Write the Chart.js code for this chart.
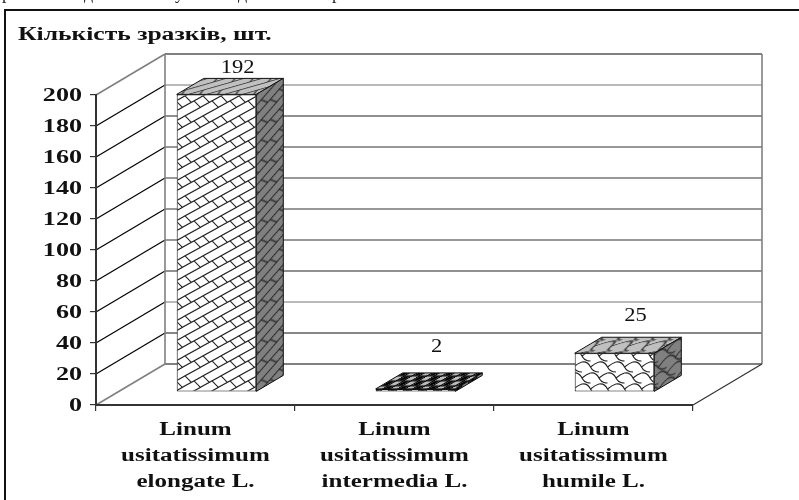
<!DOCTYPE html>
<html><head><meta charset="utf-8">
<style>html,body{margin:0;padding:0;background:#fff}canvas{display:block;filter:blur(0.3px)}</style>
<script src="https://cdn.jsdelivr.net/npm/chart.js@4"></script>
</head><body><canvas id="c" width="799" height="500"></canvas>
<script>
const categories = [["Linum","usitatissimum","elongate L."],["Linum","usitatissimum","intermedia L."],["Linum","usitatissimum","humile L."]];
const sampleCounts = [192, 2, 25];
const chartTitle = "Кількість зразків, шт.";
const clippedTextAbove = ["р","д","у","д","р"];
const clippedTextX = [2,84,175,238,332];
const labelRise = [39,55,50];
const wallLineColors = ["#808080","#111","#777","#222","#333","#333","#333","#333","#222","#777","#808080"];

const FONT = '"Liberation Serif"';
const DEPTH = {x:69,y:-41}, BARD = {x:27,y:-16}, SHIFT = {x:21,y:-13};

function makeTile(w,h,paint){const c=document.createElement('canvas');c.width=w;c.height=h;const g=c.getContext('2d');paint(g,w,h);return c;}
function brick(bg){return makeTile(18,20,(g,w,h)=>{g.fillStyle=bg;g.fillRect(0,0,w,h);g.strokeStyle='#222';g.lineWidth=1.1;
  for(let ox=-w;ox<=w;ox+=w)for(let oy=-h;oy<=h;oy+=h){
    g.beginPath();
    g.moveTo(ox,oy+10);g.lineTo(ox+18,oy);
    g.moveTo(ox,oy+20);g.lineTo(ox+18,oy+10);
    g.moveTo(ox+2,oy+8.9);g.lineTo(ox+8.4,oy+15.3);
    g.moveTo(ox+11,oy+13.9);g.lineTo(ox+17.4,oy+20.3);
    g.stroke();}
});}
function shingle(bg){return makeTile(17,22,(g,w,h)=>{g.fillStyle=bg;g.fillRect(0,0,w,h);g.strokeStyle='#222';g.lineWidth=1.1;
  for(let ox=-w;ox<=w;ox+=w)for(let oy=-h;oy<=h;oy+=h){
    for(const [dx,dy] of [[0,0],[8.5,11]]){
      const x=ox+dx,y=oy+dy;
      g.beginPath();g.moveTo(x,y+1);g.bezierCurveTo(x+5,y,x+7,y+3,x+8.5,y+6);g.bezierCurveTo(x+10,y+9,x+13,y+11,x+17,y+11);g.stroke();
      g.beginPath();g.moveTo(x+8.5,y+6);g.bezierCurveTo(x+11,y+4,x+14,y+2,x+17,y+1);g.stroke();
    }}
});}
function checker(bg){return makeTile(15,10,(g,w,h)=>{g.fillStyle='#000';g.fillRect(0,0,w,h);g.fillStyle=bg;
  g.fillRect(1,0.5,6,4);g.fillRect(8.5,5.5,6,4);
  g.fillStyle='#555';g.fillRect(8.5,0.5,6,4);g.fillRect(1,5.5,6,4);
  g.fillStyle='#000';
  for(const [x,y] of [[11.5,2.5],[4,7.5]]){g.beginPath();g.arc(x,y,2.2,0,7);g.fill();}
});}
const pctx=document.getElementById('c').getContext('2d');
const pat=(t)=>pctx.createPattern(t,'repeat');
const fronts=[pat(brick('#fff')),pat(checker('#fff')),pat(shingle('#fff'))];
const tops=[pat(brick('#c0c0c0')),pat(checker('#bdbdbd')),pat(shingle('#c0c0c0'))];
const sides=[pat(brick('#808080')),pat(checker('#808080')),pat(shingle('#808080'))];

function stretched(ctx,text,x,y,font,sx,align,color){
  ctx.save();ctx.font=font;ctx.fillStyle=color||'#000';ctx.textAlign=align||'center';ctx.textBaseline='middle';
  ctx.translate(x,y);ctx.scale(sx,1);ctx.fillText(text,0,0);ctx.restore();
}

const scene={id:'scene',
  beforeDraw(chart){
    const {ctx}=chart;ctx.save();
    ctx.fillStyle='#fff';ctx.fillRect(0,0,799,500);
    clippedTextAbove.forEach((t,i)=>{ctx.font='18px '+FONT;ctx.fillStyle='#222';ctx.textBaseline='alphabetic';ctx.textAlign='left';ctx.fillText(t,clippedTextX[i],-1);});
    ctx.strokeStyle='#111';ctx.lineWidth=2;ctx.beginPath();ctx.moveTo(799,10);ctx.lineTo(5,10);ctx.lineTo(5,500);ctx.stroke();
    const ys=chart.scales.y,a=chart.chartArea;
    ys.ticks.forEach((t,i)=>{
      const y=ys.getPixelForValue(t.value);
      const edge=wallLineColors[i]==='#808080';
      ctx.strokeStyle=edge?'#808080':'#000';ctx.lineWidth=edge?1.6:1.2;
      ctx.beginPath();ctx.moveTo(a.left,y);ctx.lineTo(a.left+DEPTH.x,y+DEPTH.y);ctx.stroke();
      ctx.strokeStyle=wallLineColors[i]||'#222';
      ctx.lineWidth=edge?1.8:1.2;
      ctx.beginPath();ctx.moveTo(a.left+DEPTH.x,y+DEPTH.y);ctx.lineTo(a.right+DEPTH.x,y+DEPTH.y);ctx.stroke();
    });
    ctx.strokeStyle='#808080';ctx.lineWidth=1.6;
    ctx.beginPath();ctx.moveTo(a.left+DEPTH.x,a.top+DEPTH.y);ctx.lineTo(a.left+DEPTH.x,a.bottom+DEPTH.y);ctx.stroke();
    ctx.beginPath();ctx.moveTo(a.right+DEPTH.x,a.top+DEPTH.y);ctx.lineTo(a.right+DEPTH.x,a.bottom+DEPTH.y);ctx.stroke();
    ctx.strokeStyle='#333';ctx.lineWidth=1.2;
    ctx.beginPath();ctx.moveTo(a.right,a.bottom);ctx.lineTo(a.right+DEPTH.x,a.bottom+DEPTH.y);ctx.stroke();
    ctx.restore();
  },
  beforeDatasetsDraw(chart){chart.ctx.save();chart.ctx.translate(SHIFT.x,SHIFT.y);},
  afterDatasetsDraw(chart){
    const {ctx}=chart;
    chart.getDatasetMeta(0).data.forEach((el,i)=>{
      const l=el.x-el.width/2,r=el.x+el.width/2,t=el.y,b=el.base;
      ctx.strokeStyle='#111';ctx.lineWidth=1;ctx.lineJoin='round';
      const m=(a,b2,c,d,e,f)=>new DOMMatrix([a,b2,c,d,e,f]);
      tops[i].setTransform(m(1,0,BARD.x/BARD.y,1,l+SHIFT.x,t+SHIFT.y));
      ctx.fillStyle=tops[i];ctx.beginPath();ctx.moveTo(l,t);ctx.lineTo(l+BARD.x,t+BARD.y);ctx.lineTo(r+BARD.x,t+BARD.y);ctx.lineTo(r,t);ctx.closePath();ctx.fill();ctx.stroke();
      sides[i].setTransform(m(1,BARD.y/BARD.x,0,1,r+SHIFT.x,t+SHIFT.y));
      ctx.fillStyle=sides[i];ctx.beginPath();ctx.moveTo(r,t);ctx.lineTo(r+BARD.x,t+BARD.y);ctx.lineTo(r+BARD.x,b+BARD.y);ctx.lineTo(r,b);ctx.closePath();ctx.fill();ctx.stroke();
    });
    ctx.restore();
    chart.getDatasetMeta(0).data.forEach((el,i)=>{
      stretched(ctx,String(sampleCounts[i]),el.x+SHIFT.x+21,el.y-labelRise[i],'18px '+FONT,1.25,'center','#111');
    });
  },
  afterDraw(chart){
    const {ctx}=chart,ys=chart.scales.y,xs=chart.scales.x;
    ys.ticks.forEach(t=>stretched(ctx,String(t.value),82,ys.getPixelForValue(t.value)+1,'bold 18px '+FONT,1.45,'right','#111'));
    categories.forEach((lines,i)=>{
      const x=xs.getPixelForTick(i);
      lines.forEach((s,j)=>stretched(ctx,s,x,430+26*j,'bold 18px '+FONT,1.39,'center','#111'));
    });
    stretched(ctx,chartTitle,18,35,'bold 18px '+FONT,1.42,'left','#111');
  }
};

new Chart(pctx,{type:'bar',
  data:{labels:categories,datasets:[{data:sampleCounts,backgroundColor:fronts,borderColor:'#111',borderWidth:1,barPercentage:0.4,categoryPercentage:1,borderSkipped:false}]},
  plugins:[scene],
  options:{responsive:false,animation:false,
    layout:{padding:{left:96,top:95,right:106,bottom:95}},
    plugins:{legend:{display:false},tooltip:{enabled:false}},
    scales:{
      x:{afterFit(s){s.height=0;},ticks:{display:false},grid:{drawOnChartArea:false,tickLength:6,color:'#333',lineWidth:1.2},border:{color:'#333',width:2}},
      y:{min:0,max:200,afterFit(s){s.width=0;},ticks:{display:false,stepSize:20},grid:{drawOnChartArea:false,tickLength:6,color:'#333',lineWidth:1.2},border:{color:'#333',width:2}}
    }}
});
</script></body></html>
